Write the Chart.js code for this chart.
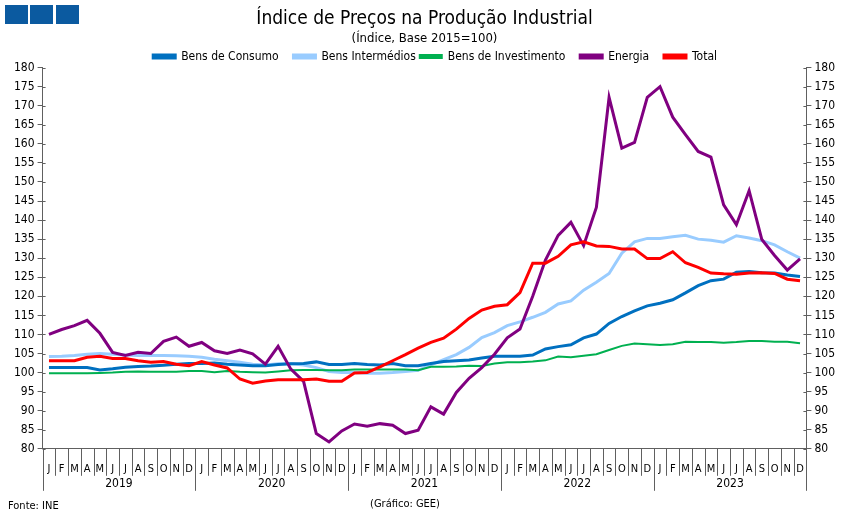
<!DOCTYPE html>
<html>
<head>
<meta charset="utf-8">
<script src="https://cdn.jsdelivr.net/npm/chart.js@4"></script>
<style>
html,body{margin:0;padding:0;background:#fff;}
#wrap{position:relative;width:851px;height:520px;}
#logo{position:absolute;left:5px;top:5px;height:19px;}
#logo span{position:absolute;top:0;width:23px;height:19px;background:#0B5AA0;}
</style>
</head>
<body>
<div id="wrap">
<div id="logo"><span style="left:0"></span><span style="left:25px"></span><span style="left:51px"></span></div>
<canvas id="c" width="851" height="520"></canvas>
</div>
<script>
const FONT = '"Liberation Sans Narrow","Arial Narrow","DejaVu Sans Condensed","Liberation Sans",sans-serif';
const monthLetters = ['J','F','M','A','M','J','J','A','S','O','N','D'];
const years = ['2019','2020','2021','2022','2023'];

const bensConsumo = [
 101.3,101.3,101.3,101.3,100.7,101.0,101.4,101.6,101.7,101.9,102.2,102.4,
 102.4,102.5,102.2,102.0,101.8,101.8,102.1,102.3,102.4,102.8,102.1,102.1,
 102.4,102.1,102.0,102.4,101.8,101.8,102.4,102.9,103.1,103.3,103.8,104.3,
 104.3,104.3,104.6,106.2,106.8,107.3,109.1,110.1,112.9,114.7,116.2,117.5,
 118.2,119.1,120.9,122.8,124.1,124.5,126.3,126.5,126.2,126.1,125.6,125.2];
const bensIntermedios = [
 104.2,104.3,104.5,104.8,105.0,104.8,104.6,104.5,104.5,104.5,104.4,104.3,
 104.0,103.5,103.1,102.7,102.2,102.0,102.3,102.3,102.0,101.3,100.3,100.0,
 100.0,99.8,99.8,100.0,100.3,100.6,102.0,103.4,104.7,106.6,109.2,110.5,
 112.3,113.3,114.5,115.8,118.0,118.8,121.6,123.7,126.0,131.3,134.3,135.2,
 135.2,135.6,136.0,135.0,134.7,134.2,135.9,135.3,134.6,133.5,131.7,130.0];
const bensInvestimento = [
 99.8,99.8,99.8,99.8,99.9,100.0,100.2,100.3,100.2,100.2,100.2,100.4,
 100.4,100.1,100.4,100.2,100.1,100.0,100.3,100.6,100.7,100.7,100.6,100.6,
 100.8,100.8,100.8,100.8,100.8,100.6,101.5,101.5,101.6,101.8,101.7,102.4,
 102.7,102.7,102.9,103.2,104.2,104.0,104.4,104.8,105.9,107.0,107.6,107.4,
 107.2,107.4,108.1,108.0,108.0,107.8,108.0,108.3,108.3,108.1,108.1,107.7];
const energia = [
 110.0,111.3,112.3,113.7,110.3,105.3,104.5,105.3,105.0,108.2,109.3,106.9,
 107.9,105.7,105.0,105.9,104.9,102.2,106.9,100.9,97.7,84.0,81.8,84.7,
 86.5,85.9,86.6,86.2,84.0,84.9,91.0,89.1,94.8,98.5,101.3,104.8,
 109.1,111.4,120.0,129.5,136.0,139.4,133.3,143.3,172.2,158.9,160.4,172.2,
 175.0,167.0,162.4,158.0,156.5,144.0,138.8,147.7,134.9,130.7,126.9,129.8];
const total = [
 103.1,103.1,103.1,104.0,104.3,103.7,103.7,103.1,102.7,102.9,102.2,101.8,
 102.9,102.0,101.2,98.3,97.2,97.8,98.1,98.1,98.1,98.3,97.7,97.7,
 99.9,100.0,101.5,103.1,104.7,106.4,107.9,109.0,111.4,114.2,116.4,117.4,
 117.8,121.0,128.7,128.7,130.5,133.5,134.3,133.2,133.1,132.4,132.4,129.9,
 129.9,131.7,128.8,127.6,126.1,125.9,125.8,126.1,126.2,126.0,124.5,124.1];

const labels = [];
years.forEach(y => monthLetters.forEach(m => labels.push(m)));

function ds(label, data, color, width, order){
  return {label, data, borderColor: color, backgroundColor: color, borderWidth: width,
          pointRadius: 0, tension: 0, order, yAxisID: 'y'};
}

const AXIS = '#606060';

const decor = {
  id: 'decor',
  afterInit(chart){
    const lg = chart.legend;
    if (lg && !lg._patched){
      const fit = lg.fit.bind(lg);
      lg.fit = function(){ fit(); this.height -= 5; };
      lg._patched = true;
    }
  },
  afterLayout(chart){
    if (chart.legend){ chart.legend.left += 16; chart.legend.right += 16; }
  },
  afterDraw(chart){
    const ctx = chart.ctx, x = chart.scales.x;
    const step = x.getPixelForValue(1) - x.getPixelForValue(0);
    const base = x.top;
    ctx.save();
    ctx.strokeStyle = AXIS;
    ctx.lineWidth = 1;
    for (let i = 0; i <= labels.length; i++){
      const px = Math.round(x.getPixelForValue(0) + (i - 0.5) * step) + 0.5;
      const len = (i % 12 === 0) ? 42 : 27;
      ctx.beginPath(); ctx.moveTo(px, base); ctx.lineTo(px, base + len); ctx.stroke();
    }
    ['y', 'y2'].forEach(id => {
      const s = chart.scales[id];
      const ax = id === 'y' ? s.right : s.left;
      const dir = id === 'y' ? 1 : -1;
      s.ticks.forEach(t => {
        const py = Math.round(s.getPixelForValue(t.value)) + 0.5;
        ctx.beginPath(); ctx.moveTo(ax, py); ctx.lineTo(ax + dir * 3, py); ctx.stroke();
      });
    });
    ctx.fillStyle = '#000';
    ctx.font = '12px ' + FONT;
    ctx.textAlign = 'center'; ctx.textBaseline = 'middle';
    years.forEach((y, k) => {
      const cx = x.getPixelForValue(k*12) - step/2 + 6*step;
      ctx.fillText(y, cx, base + 35);
    });
    ctx.font = '11px ' + FONT;
    ctx.textAlign = 'left';
    ctx.fillText('Fonte: INE', 8, 506);
    ctx.textAlign = 'center';
    ctx.fillText('(Gráfico: GEE)', 405, 504);
    ctx.restore();
  }
};

new Chart(document.getElementById('c'), {
  type: 'line',
  data: {
    labels,
    datasets: [
      ds('Bens de Consumo', bensConsumo, '#0070C0', 3, 3),
      ds('Bens Intermédios', bensIntermedios, '#99CCFF', 3, 4),
      ds('Bens de Investimento', bensInvestimento, '#00B050', 2, 2),
      ds('Energia', energia, '#800080', 3, 1),
      ds('Total', total, '#FF0000', 3, 0)
    ]
  },
  options: {
    responsive: false,
    animation: false,
    events: [],
    layout: {autoPadding: false, padding: {left: 11, right: 13, top: 0, bottom: 38}},
    plugins: {
      title: {display: true, text: 'Índice de Preços na Produção Industrial', color: '#000',
              font: {family: FONT, size: 19, weight: 'normal', lineHeight: 1.0}, padding: {top: 10, bottom: 2}},
      subtitle: {display: true, text: '(Índice, Base 2015=100)', color: '#000',
              font: {family: FONT, size: 13, weight: 'normal'}, padding: {top: 0, bottom: 0}},
      legend: {display: true, position: 'top',
        labels: {boxWidth: 22, boxHeight: 3, padding: 4, color: '#000',
                 font: {family: FONT, size: 12},
                 generateLabels(chart){
                   const items = Chart.defaults.plugins.legend.labels.generateLabels(chart);
                   items.forEach((it, i) => { if (i < items.length - 1) it.text += '\u2002\u2002'; });
                   return items;
                 },
                 sort: (a, b) => a.datasetIndex - b.datasetIndex}},
      tooltip: {enabled: false}
    },
    scales: {
      x: {
        offset: true,
        grid: {display: false},
        border: {display: true, color: AXIS},
        ticks: {autoSkip: false, maxRotation: 0, color: '#000', padding: 6,
                font: {family: FONT, size: 11}}
      },
      y: {
        position: 'left', min: 80, max: 180,
        grid: {drawOnChartArea: false, tickLength: 5, color: AXIS},
        border: {color: AXIS},
        ticks: {stepSize: 5, color: '#000', padding: 3, font: {family: FONT, size: 12}}
      },
      y2: {
        position: 'right', min: 80, max: 180, display: true,
        grid: {drawOnChartArea: false, tickLength: 5, color: AXIS},
        border: {color: AXIS},
        ticks: {stepSize: 5, color: '#000', padding: 3, font: {family: FONT, size: 12}}
      }
    }
  },
  plugins: [decor]
});
</script>
</body>
</html>
